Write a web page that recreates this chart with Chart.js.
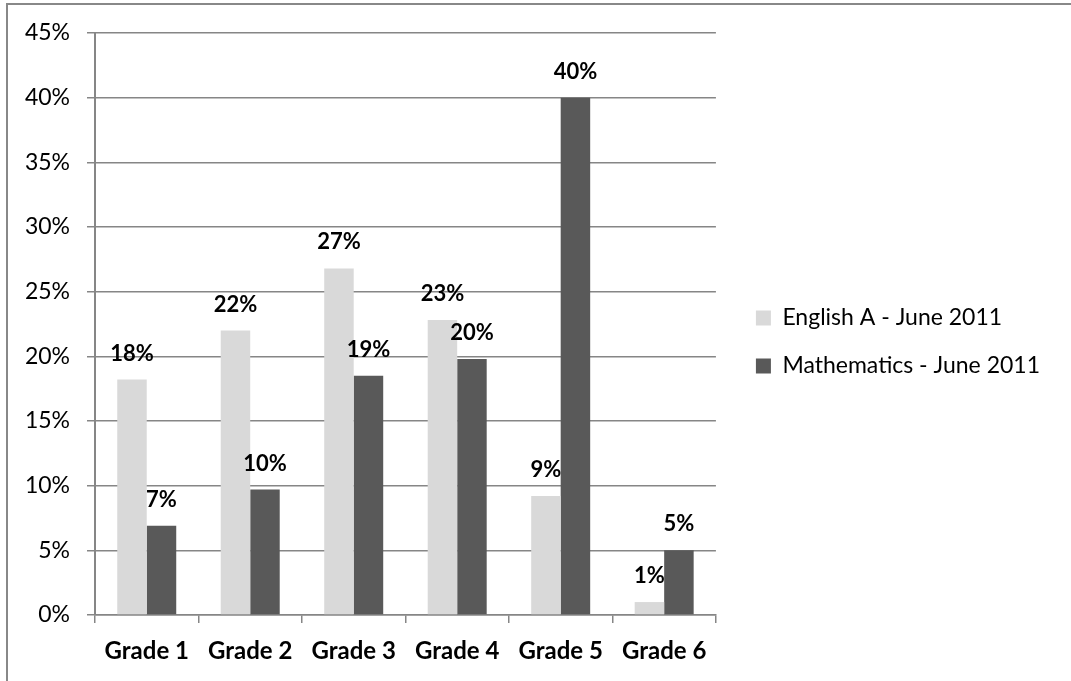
<!DOCTYPE html>
<html>
<head>
<meta charset="utf-8">
<script src="https://cdn.jsdelivr.net/npm/chart.js@4"></script>
<style>
    html, body { margin: 0; padding: 0; background: #fff; overflow: hidden; }
    #wrap { position: relative; width: 1071px; height: 681px; }
    #frame {
        position: absolute; left: 6px; top: 3px;
        width: 1200px; height: 800px;
        border: 2px solid #888; pointer-events: none;
    }
    #gradeChart { position: absolute; left: 0; top: 0; }
</style>
</head>
<body>
<div id="wrap">
    <div id="frame"></div>
    <canvas id="gradeChart" width="1071" height="681"></canvas>
</div>
<script>
// Kết quả theo bậc điểm (%)
const grades = ['Grade 1', 'Grade 2', 'Grade 3', 'Grade 4', 'Grade 5', 'Grade 6'];
const englishA = [18.2, 22.0, 26.8, 22.8, 9.2, 1.0];
const mathematics = [6.9, 9.7, 18.5, 19.8, 40.0, 5.0];
const seriesNames = ['English A - June 2011', 'Mathematics - June 2011'];
const yTicks = [0, 5, 10, 15, 20, 25, 30, 35, 40, 45];

const FONT = 'Lato, Calibri, "Open Sans", sans-serif';
const GRID = '#868686';

// Nhãn giá trị phía trên mỗi cột
const barLabels = {
    id: 'barLabels',
    afterDatasetsDraw(chart) {
        const ctx = chart.ctx;
        ctx.save();
        ctx.font = 'bold 22px ' + FONT;
        ctx.fillStyle = '#000';
        ctx.textAlign = 'center';
        ctx.textBaseline = 'middle';
        chart.data.datasets.forEach((ds, i) => {
            chart.getDatasetMeta(i).data.forEach((bar, j) => {
                ctx.fillText(Math.round(ds.data[j]) + '%', bar.x, bar.y - 26);
            });
        });
        ctx.restore();
    }
};

// Dời khung chú thích: cách vùng vẽ 15px, nâng lên 15px
const legendShift = {
    id: 'legendShift',
    afterLayout(chart) {
        const lg = chart.legend;
        const dx = chart.chartArea.right + 15 - lg.left;
        lg.left += dx;
        lg.right += dx;
        lg.top -= 15;
        lg.bottom -= 15;
    }
};

new Chart(document.getElementById('gradeChart'), {
    type: 'bar',
    data: {
        labels: grades,
        datasets: [
            {
                label: seriesNames[0],
                data: englishA,
                backgroundColor: '#d9d9d9',
                categoryPercentage: 0.57,
                barPercentage: 1.0
            },
            {
                label: seriesNames[1],
                data: mathematics,
                backgroundColor: '#595959',
                categoryPercentage: 0.57,
                barPercentage: 1.0
            }
        ]
    },
    options: {
        responsive: false,
        devicePixelRatio: 1,
        animation: false,
        layout: { padding: { top: 33, left: 0, right: 36, bottom: 0 } },
        plugins: {
            legend: {
                position: 'right',
                maxWidth: 400,
                labels: {
                    boxWidth: 15,
                    boxHeight: 15,
                    padding: 25,
                    color: '#000',
                    font: { family: FONT, size: 23 }
                }
            },
            tooltip: { enabled: false }
        },
        scales: {
            x: {
                grid: {
                    drawOnChartArea: false,
                    drawTicks: true,
                    tickLength: 8,
                    color: GRID,
                    lineWidth: 1.5
                },
                border: { color: GRID, width: 1.5 },
                ticks: {
                    color: '#000',
                    padding: 14,
                    font: { family: FONT, size: 24, weight: 'bold' }
                },
                afterFit(scale) { scale.height = 66; }
            },
            y: {
                min: 0,
                max: 45,
                afterBuildTicks(scale) {
                    scale.ticks = yTicks.map(v => ({ value: v }));
                },
                grid: { color: GRID, lineWidth: 1.5, tickLength: 8 },
                border: { color: GRID, width: 2 },
                ticks: {
                    color: '#000',
                    padding: 17,
                    font: { family: FONT, size: 23 },
                    callback: v => v + '%'
                },
                afterFit(scale) { scale.width = 95; }
            }
        }
    },
    plugins: [barLabels, legendShift]
});
</script>
</body>
</html>
